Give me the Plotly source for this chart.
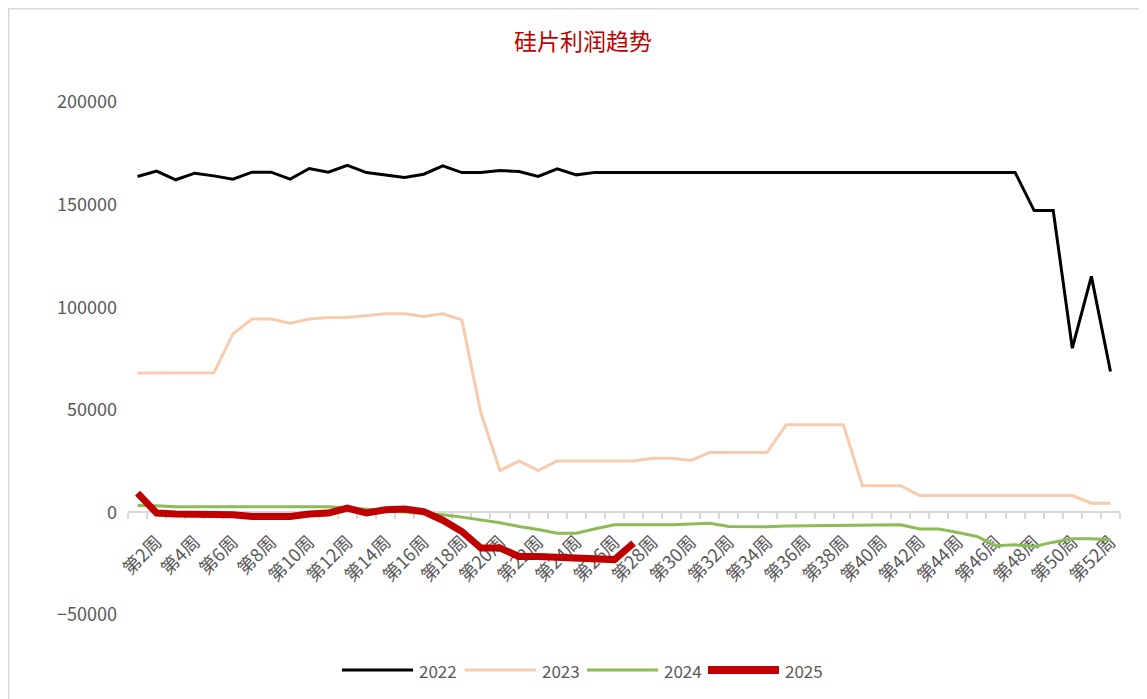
import plotly.graph_objects as go

# 周次（第1周 ~ 第52周）
weeks = list(range(1, 53))
week_labels = ["第%d周" % w for w in weeks]
tick_weeks = [w for w in weeks if w % 2 == 0]
tick_labels = ["第%d周" % w for w in tick_weeks]

# 各年份硅片利润（数值读自原图）
y2022 = [163700, 166300, 162100, 165300, 164000, 162400, 165800, 165800, 162400, 167600,
         165800, 169100, 165600, 164400, 163200, 164800, 168900, 165600, 165600, 166600,
         166100, 163700, 167400, 164500, 165700, 165700, 165700, 165700, 165700, 165700,
         165700, 165700, 165700, 165700, 165700, 165700, 165700, 165700, 165700, 165700,
         165700, 165700, 165700, 165700, 165700, 165700, 165700, 147100, 147100, 80000,
         115000, 68700]
y2023 = [67900, 68000, 68000, 68000, 68000, 87000, 94200, 94200, 92200, 94200,
         95000, 95000, 96000, 96800, 96800, 95500, 96800, 93800, 48400, 20400,
         25100, 20400, 25100, 25100, 25100, 25100, 25100, 26400, 26400, 25300,
         29200, 29200, 29200, 29200, 42700, 42700, 42700, 42700, 13000, 13000,
         13000, 8200, 8200, 8200, 8200, 8200, 8200, 8200, 8200, 8200,
         4500, 4500]
y2024 = [3400, 3300, 2800, 2800, 3000, 3100, 3100, 3100, 3000, 2900,
         2800, 2300, 1500, 700, 200, -500, -1200, -2300, -3500, -5000,
         -6900, -8300, -10100, -10100, -8000, -6000, -6000, -6000, -6000, -5600,
         -5300, -6900, -7000, -7000, -6600, -6500, -6500, -6500, -6300, -6000,
         -6000, -8100, -8100, -9800, -11700, -16300, -15800, -16600, -14500, -12900,
         -12900, -13300]
y2025 = [9400, -300, -800, -800, -800, -1200, -2000, -2000, -2000, -800,
         -300, 2100, -300, 1300, 1600, 400, -3800, -9300, -17400, -17400,
         -21500, -21500, -21800, -21800, -22000, -23000, -15000]

series = [
    ("2022", y2022, "#000000", 3),
    ("2023", y2023, "#F8CBAD", 3),
    ("2024", y2024, "#8DBB55", 3),
    ("2025", y2025, "#C00000", 7),
]

# 页面 body 有 8px 外边距，画布尺寸相应缩小
W, H = 1139, 691
L, R, T, B = 120, 27, 94, 84
PW, PH = W - L - R, H - T - B


def px_x(x):  # 画布像素 -> paper 坐标
    return (x - L) / PW


def px_y(y):
    return (H - B - y) / PH


fig = go.Figure()
for name, vals, color, width in series:
    fig.add_trace(go.Scatter(
        x=weeks[:len(vals)], y=vals, mode="lines", name=name,
        line=dict(color=color, width=width),
        customdata=week_labels[:len(vals)],
        hovertemplate="%{customdata}: %{y}<extra>" + name + "</extra>",
    ))

font_name = "Noto Sans CJK SC"
grey = "#595959"

fig.update_layout(
    width=W, height=H,
    margin=dict(l=L, r=R, t=T, b=B),
    paper_bgcolor="white", plot_bgcolor="white",
    font=dict(family=font_name, color=grey, size=16),
    title=dict(text="硅片利润趋势", xref="container", x=575 / W, xanchor="center",
               yref="container", y=1 - 34 / H, yanchor="middle",
               font=dict(family=font_name, size=23, color="#C00000")),
    showlegend=False,
)

fig.update_xaxes(
    type="linear", range=[0.5, 52.5], automargin=False,
    anchor="free", position=0.2, layer="below traces",
    showline=True, linecolor="#D9D9D9", linewidth=2,
    showgrid=False, zeroline=False,
    tickmode="array", tickvals=tick_weeks, ticktext=tick_labels,
    tickangle=-45, ticks="", tickfont=dict(size=18, color=grey), ticklabelstandoff=11,
    minor=dict(tickmode="array", tickvals=[w - 0.5 for w in weeks] + [52.5],
               ticks="outside", ticklen=6, tickwidth=2, tickcolor="#D9D9D9", showgrid=False),
)
fig.update_yaxes(
    range=[-50000, 200000], dtick=50000, tick0=0, tickformat="d", automargin=False,
    showgrid=False, zeroline=False, showline=False,
    tickfont=dict(size=18, color=grey), ticklabelstandoff=10,
)

# 图例（手绘，线段较长）
legend_x = [334, 457, 579, 700]
for (name, vals, color, width), lx in zip(series, legend_x):
    fig.add_shape(type="line", xref="paper", yref="paper",
                  x0=px_x(lx), x1=px_x(lx + 71), y0=px_y(662), y1=px_y(662),
                  line=dict(color=color, width=width if width < 5 else 8))
    fig.add_annotation(text=name, xref="paper", yref="paper",
                       x=px_x(lx + 75), y=px_y(662), xanchor="left", yanchor="middle",
                       showarrow=False, font=dict(size=17, color=grey))

# 外框
fig.add_shape(type="rect", xref="paper", yref="paper",
              x0=px_x(0.75), x1=px_x(1133),
              y0=px_y(H + 20), y1=px_y(0.75),
              line=dict(color="#D9D9D9", width=1.5), layer="below")

fig.write_html("out.html")
